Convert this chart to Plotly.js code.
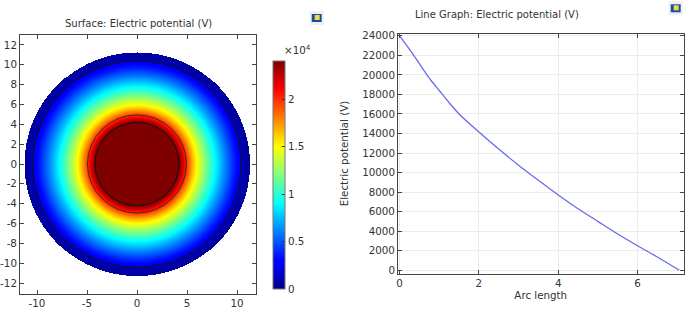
<!DOCTYPE html>
<html>
<head>
<meta charset="utf-8">
<script src="https://cdn.plot.ly/plotly-3.0.1.min.js"></script>
<style>html,body{margin:0;padding:0;background:#fff}#c{width:685px;height:309px}</style>
</head>
<body>
<div id="c"></div>
<script>
var arcLength = [0,0.2,0.4,0.6,0.8,1,1.25,1.5,1.75,2,2.5,3,3.5,4,4.5,5,5.5,6,6.5,7.05];
var potential = [24000,22900,21750,20550,19400,18400,17150,16000,15050,14150,12400,10750,9200,7700,6300,5000,3700,2500,1350,0];
var fieldRadii = [4.2,4.4,4.6,4.8,5,5.2,5.45,5.7,5.95,6.2,6.7,7.2,7.7,8.2,8.7,9.2,9.7,10.4,10.45,11.25];
var fieldValues = [24000,22900,21750,20550,19400,18400,17150,16000,15050,14150,12400,10750,9200,7700,6300,5000,3700,2200,1100,500];
var boundaryRadii = [4.2,4.95,10.4,11.25];
var leftXTicks = [-10,-5,0,5,10];
var leftXLabels = ['-10','-5','0','5','10'];
var leftYTicks = [-12,-10,-8,-6,-4,-2,0,2,4,6,8,10,12];
var leftYLabels = ['-12','-10','-8','-6','-4','-2','0','2','4','6','8','10','12'];
var rightXTicks = [0,2,4,6];
var rightYTicks = [0,2000,4000,6000,8000,10000,12000,14000,16000,18000,20000,22000,24000];
var barTicks = [0,5000,10000,15000,20000];
var barLabels = ['0','0.5','1','1.5','2'];
var jet = [[0,'#00007f'],[0.11,'#0000ff'],[0.125,'#0000ff'],[0.375,'#00ffff'],[0.625,'#ffff00'],[0.875,'#ff0000'],[1,'#7f0000']];

var W=685,H=309;
function px(x){return x/W;}
function py(y){return 1-y/H;}

var rInner=boundaryRadii[0], rOuter=boundaryRadii[3];
function lookup(r){
  if(r<=fieldRadii[0]) return fieldValues[0];
  for(var i=1;i<fieldRadii.length;i++){
    if(r<=fieldRadii[i]){
      var t=(r-fieldRadii[i-1])/(fieldRadii[i]-fieldRadii[i-1]);
      return fieldValues[i-1]+t*(fieldValues[i]-fieldValues[i-1]);
    }
  }
  return fieldValues[fieldValues.length-1];
}
var gx=[],gy=[],gz=[],step=0.05;
for(var i=-240;i<=240;i++) gx.push(i*step);
for(var j=-260;j<=260;j++) gy.push(j*step);
gy.forEach(function(y){
  gz.push(gx.map(function(x){
    var r=Math.sqrt(x*x+y*y);
    return r<=rOuter?lookup(r):null;
  }));
});

var tickFont={family:'DejaVu Sans',size:10.3,color:'#333'};
var lineCol='#444';
var data=[
 {type:'heatmap',x:gx,y:gy,z:gz,xaxis:'x',yaxis:'y',zmin:0,zmax:24000,colorscale:jet,zsmooth:false,hoverongaps:false,
  colorbar:{x:px(273),xanchor:'left',xpad:0,y:py(175),yanchor:'middle',ypad:0,lenmode:'pixels',len:228,thicknessmode:'pixels',thickness:12,
    tickmode:'array',tickvals:barTicks,ticktext:barLabels,ticks:'inside',ticklen:3,tickcolor:'#333',tickfont:tickFont,
    outlinecolor:'#777',outlinewidth:1}},
 {type:'scatter',mode:'lines',x:arcLength,y:potential,xaxis:'x2',yaxis:'y2',showlegend:false,line:{color:'#6a6af0',width:1.3,shape:'spline',smoothing:0.6}}
];

var shapes=boundaryRadii.slice(0,3).map(function(r){
  return {type:'circle',xref:'x',yref:'y',x0:-r,x1:r,y0:-r,y1:r,line:{color:r===boundaryRadii[1]?'#3a2a20':'#111',width:1}};
});
[[316.7,18],[675.7,8.3]].forEach(function(p){
  var x=p[0],y=p[1];
  shapes.push({type:'rect',xref:'paper',yref:'paper',x0:px(x-7),x1:px(x+7),y0:py(y+7),y1:py(y-7),fillcolor:'#f0f0f0',line:{width:0}});
  shapes.push({type:'rect',xref:'paper',yref:'paper',x0:px(x-5),x1:px(x+5),y0:py(y+4),y1:py(y-4),fillcolor:'#1a4fa8',line:{width:0}});
  shapes.push({type:'rect',xref:'paper',yref:'paper',x0:px(x-2),x1:px(x+3),y0:py(y+2),y1:py(y-3),fillcolor:'#f0d84a',line:{width:0}});
});

function axis(o){
  return Object.assign({showline:true,linecolor:lineCol,linewidth:1,mirror:'allticks',ticks:'inside',ticklen:4,tickcolor:lineCol,
    tickfont:tickFont,zeroline:false,tickmode:'array'},o);
}
var layout={
 width:W,height:H,margin:{l:0,r:0,t:0,b:0},paper_bgcolor:'#fff',plot_bgcolor:'#fff',showlegend:false,
 font:{family:'DejaVu Sans',size:10.3,color:'#333'},
 xaxis:axis({domain:[px(20),px(256)],range:[-11.7,11.9],tickvals:leftXTicks,ticktext:leftXLabels,showgrid:false,anchor:'y'}),
 yaxis:axis({domain:[py(294),py(35)],range:[-13.1,13],tickvals:leftYTicks,ticktext:leftYLabels,showgrid:false,anchor:'x'}),
 xaxis2:axis({domain:[px(398),px(683.5)],range:[-0.04,7.16],tickvals:rightXTicks,tickformat:'d',showgrid:true,gridcolor:'#ececec',anchor:'y2',
   title:{text:'Arc length',font:tickFont,standoff:3}}),
 yaxis2:axis({domain:[py(273.5),py(33.5)],range:[-340,24240],tickvals:rightYTicks,tickformat:'d',showgrid:true,gridcolor:'#ececec',anchor:'x2',
   title:{text:'Electric potential (V)',font:tickFont,standoff:11}}),
 shapes:shapes,
 annotations:[
  {xref:'paper',yref:'paper',x:px(138.5),y:py(23.5),xanchor:'center',yanchor:'middle',text:'Surface: Electric potential (V)',showarrow:false,font:{family:'DejaVu Sans',size:10,color:'#333'}},
  {xref:'paper',yref:'paper',x:px(496.5),y:py(14),xanchor:'center',yanchor:'middle',text:'Line Graph: Electric potential (V)',showarrow:false,font:{family:'DejaVu Sans',size:10,color:'#333'}},
  {xref:'paper',yref:'paper',x:px(297),y:py(49.5),xanchor:'center',yanchor:'middle',text:'×10<sup>4</sup>',showarrow:false,font:tickFont}
 ]
};
Plotly.newPlot('c',data,layout,{displayModeBar:false,staticPlot:true});
</script>
</body>
</html>
